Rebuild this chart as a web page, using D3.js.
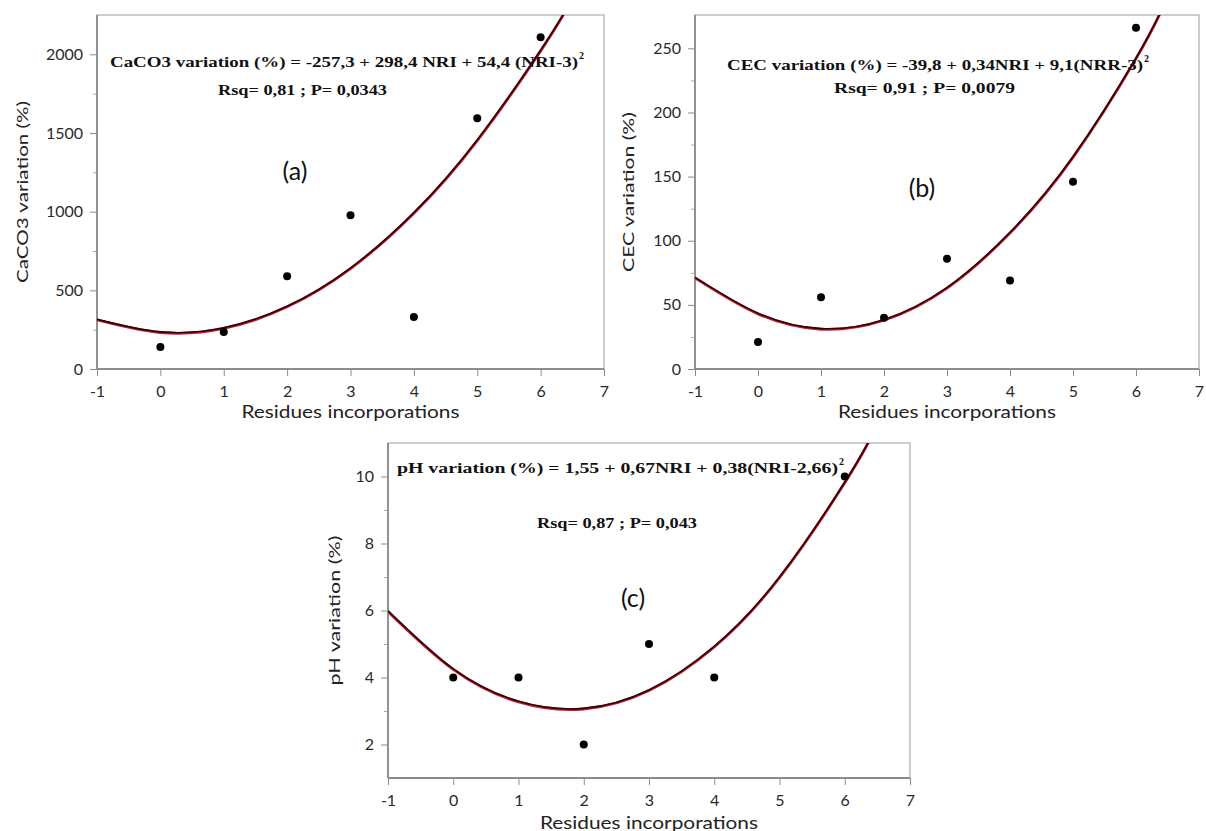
<!DOCTYPE html>
<html>
<head>
<meta charset="utf-8">
<script src="https://cdn.jsdelivr.net/npm/d3@7/dist/d3.min.js"></script>
<style>
  body { margin: 0; background: #fff; }
  svg text { font-family: Lato, "Open Sans", sans-serif; }
  .eq { font-family: "Liberation Serif", "Times New Roman", serif !important; font-weight: bold; }
</style>
</head>
<body>
<svg id="chart" width="1206" height="831"></svg>
<script>
// Values
const xTicks = [-1, 0, 1, 2, 3, 4, 5, 6, 7];

const caco3Nri = [0, 1, 2, 3, 4, 5, 6];
const caco3Obs = [140, 235, 590, 978, 330, 1594, 2108];
const caco3FitNri = [-1, 0, 1, 2, 3, 4, 5, 6, 6.4];
const caco3Fit = [312, 232, 258, 395, 638, 990, 1452, 2022, 2280];
const caco3Ticks = [0, 500, 1000, 1500, 2000];
const caco3Minor = [250, 750, 1250, 1750];

const cecNri = [0, 1, 2, 3, 4, 5, 6];
const cecObs = [21, 56, 40, 86, 69, 146, 266];
const cecFitNri = [-1, 0, 1, 2, 3, 4, 5, 6, 6.4];
const cecFit = [71, 43, 31, 38, 63, 106, 165, 242, 279];
const cecTicks = [0, 50, 100, 150, 200, 250];
const cecMinor = [25, 75, 125, 175, 225];

const phNri = [0, 1, 2, 3, 4, 6];
const phObs = [4, 4, 2, 5, 4, 10];
const phFitNri = [-1, 0, 1, 2, 3, 4, 5, 6, 6.4];
const phFit = [5.97, 4.24, 3.27, 3.06, 3.61, 4.91, 6.98, 9.81, 11.15];
const phTicks = [2, 4, 6, 8, 10];
const phMinor = [3, 5, 7, 9];

const svg = d3.select("#chart");

// Panel layout (pixel boxes measured on the reference)
const panels = [
  {
    id: "a", left: 97, right: 604, top: 15, bottom: 369, yDomain: [0, 2250],
    nri: caco3Nri, obs: caco3Obs, fitNri: caco3FitNri, fit: caco3Fit,
    ticks: caco3Ticks, minor: caco3Minor,
    yTitle: "CaCO3 variation (%)", yTitleX: 21, yTitleLen: 182,
    xTitleY: 411,
    eq: "CaCO3 variation (%) = -257,3 + 298,4 NRI + 54,4 (NRI-3)", eqX: 110, eqY: 67, eqLen: 468,
    rsq: "Rsq= 0,81 ; P= 0,0343", rsqX: 218, rsqY: 95, rsqLen: 169,
    tag: "(a)", tagX: 295, tagY: 170
  },
  {
    id: "b", left: 695, right: 1199, top: 15, bottom: 369, yDomain: [0, 276],
    nri: cecNri, obs: cecObs, fitNri: cecFitNri, fit: cecFit,
    ticks: cecTicks, minor: cecMinor,
    yTitle: "CEC variation (%)", yTitleX: 627, yTitleLen: 160,
    xTitleY: 411,
    eq: "CEC variation (%) = -39,8 + 0,34NRI + 9,1(NRR-3)", eqX: 727, eqY: 70, eqLen: 416,
    rsq: "Rsq= 0,91 ; P= 0,0079", rsqX: 834, rsqY: 93, rsqLen: 181,
    tag: "(b)", tagX: 922, tagY: 187
  },
  {
    id: "c", left: 388, right: 910, top: 443, bottom: 778, yDomain: [1, 11],
    nri: phNri, obs: phObs, fitNri: phFitNri, fit: phFit,
    ticks: phTicks, minor: phMinor,
    yTitle: "pH variation (%)", yTitleX: 333, yTitleLen: 150,
    xTitleY: 822,
    eq: "pH variation (%) = 1,55 + 0,67NRI + 0,38(NRI-2,66)", eqX: 397, eqY: 473, eqLen: 441,
    rsq: "Rsq= 0,87 ; P= 0,043", rsqX: 537, rsqY: 528, rsqLen: 160,
    tag: "(c)", tagX: 633, tagY: 597
  }
];

const axisColor = "#8c8c8c",
  frameColor = "#b8b8b8",
  labelColor = "#2a2a2a",
  plainNumber = d => String(d); // keeps "2000" and "-1" like the scan

panels.forEach(p => {
  const x = d3.scaleLinear().domain([-1, 7]).range([p.left, p.right]);
  const y = d3.scaleLinear().domain(p.yDomain).range([p.bottom, p.top]);

  const g = svg.append("g").attr("class", "panel-" + p.id);

  // clip for the fitted curve
  g.append("clipPath")
    .attr("id", "clip-" + p.id)
    .append("rect")
    .attr("x", p.left)
    .attr("y", p.top)
    .attr("width", p.right - p.left)
    .attr("height", p.bottom - p.top);

  // light frame on top/right
  g.append("rect")
    .attr("x", p.left)
    .attr("y", p.top)
    .attr("width", p.right - p.left)
    .attr("height", p.bottom - p.top)
    .attr("fill", "none")
    .attr("stroke", frameColor)
    .attr("stroke-width", 1.4);

  // minor y ticks
  g.append("g")
    .attr("transform", "translate(" + p.left + ",0)")
    .call(d3.axisLeft(y).tickValues(p.minor).tickSize(4).tickFormat(""))
    .call(s => s.select(".domain").remove())
    .selectAll("line").attr("stroke", "#aaa");

  // major y ticks
  const ya = g.append("g")
    .attr("transform", "translate(" + p.left + ",0)")
    .call(d3.axisLeft(y).tickValues(p.ticks).tickFormat(plainNumber).tickSize(7).tickPadding(7));
  ya.select(".domain").remove();
  ya.selectAll("line").attr("stroke", axisColor);
  ya.selectAll("text").attr("fill", labelColor).attr("font-size", 16).attr("font-family", "Lato");

  // x axis
  const xa = g.append("g")
    .attr("transform", "translate(0," + p.bottom + ")")
    .call(d3.axisBottom(x).tickValues(xTicks).tickFormat(plainNumber).tickSize(7).tickPadding(10));
  xa.select(".domain").remove();
  xa.selectAll("line").attr("stroke", axisColor);
  xa.selectAll("text").attr("fill", labelColor).attr("font-size", 16).attr("font-family", "Lato");

  // darker left & bottom axis lines
  g.append("line")
    .attr("x1", p.left).attr("x2", p.left)
    .attr("y1", p.top).attr("y2", p.bottom)
    .attr("stroke", axisColor).attr("stroke-width", 1.8);
  g.append("line")
    .attr("x1", p.left).attr("x2", p.right)
    .attr("y1", p.bottom).attr("y2", p.bottom)
    .attr("stroke", axisColor).attr("stroke-width", 1.8);

  // fitted curve: red underneath, black on top (as in the scan)
  const fitData = p.fitNri.map((v, i) => [v, p.fit[i]]);
  const line = d3.line()
    .x(d => x(d[0]))
    .y(d => y(d[1]))
    .curve(d3.curveNatural);

  const curves = g.append("g").attr("clip-path", "url(#clip-" + p.id + ")");
  curves.append("path")
    .datum(fitData)
    .attr("d", line)
    .attr("fill", "none")
    .attr("stroke", "#d8142c")
    .attr("stroke-width", 2.8);
  curves.append("path")
    .datum(fitData)
    .attr("d", line)
    .attr("transform", "translate(0,-0.6)")
    .attr("fill", "none")
    .attr("stroke", "#1a0a0a")
    .attr("stroke-width", 1.6);

  // observed points
  g.selectAll("circle.obs")
    .data(p.nri.map((v, i) => [v, p.obs[i]]))
    .join("circle")
    .attr("class", "obs")
    .attr("cx", d => x(d[0]))
    .attr("cy", d => y(d[1]))
    .attr("r", 4)
    .attr("fill", "#000");

  // axis titles
  g.append("text")
    .text("Residues incorporations")
    .attr("x", (p.left + p.right) / 2)
    .attr("y", p.xTitleY)
    .attr("text-anchor", "middle")
    .attr("dominant-baseline", "central")
    .attr("font-size", 17)
    .attr("textLength", 218)
    .attr("lengthAdjust", "spacingAndGlyphs")
    .attr("fill", "#222");

  g.append("text")
    .text(p.yTitle)
    .attr("transform", "translate(" + p.yTitleX + "," + (p.top + p.bottom) / 2 + ") rotate(-90)")
    .attr("text-anchor", "middle")
    .attr("dominant-baseline", "central")
    .attr("font-size", 16)
    .attr("textLength", p.yTitleLen)
    .attr("lengthAdjust", "spacingAndGlyphs")
    .attr("fill", "#222");

  // regression equation + stats
  g.append("text")
    .attr("class", "eq")
    .text(p.eq)
    .attr("x", p.eqX)
    .attr("y", p.eqY)
    .attr("font-size", 15)
    .attr("textLength", p.eqLen)
    .attr("lengthAdjust", "spacingAndGlyphs")
    .attr("fill", "#111");
  g.append("text")
    .attr("class", "eq")
    .text("2")
    .attr("x", p.eqX + p.eqLen + 1)
    .attr("y", p.eqY - 8)
    .attr("font-size", 10)
    .attr("fill", "#111");
  g.append("text")
    .attr("class", "eq")
    .text(p.rsq)
    .attr("x", p.rsqX)
    .attr("y", p.rsqY)
    .attr("font-size", 15)
    .attr("textLength", p.rsqLen)
    .attr("lengthAdjust", "spacingAndGlyphs")
    .attr("fill", "#111");

  // panel tag
  g.append("text")
    .text(p.tag)
    .attr("x", p.tagX)
    .attr("y", p.tagY)
    .attr("text-anchor", "middle")
    .attr("dominant-baseline", "central")
    .attr("font-size", 25)
    .attr("fill", "#111");
});
</script>
</body>
</html>
